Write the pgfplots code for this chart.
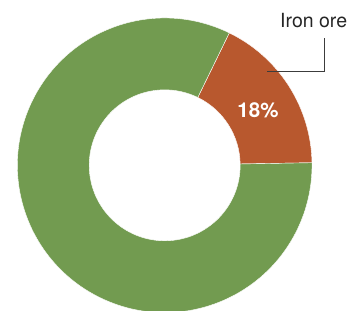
\documentclass[border=0pt]{standalone}
\usepackage{pgfplots}
\usepackage{pgfplotstable}
\pgfplotsset{compat=1.18}
\usetikzlibrary{calc}
\usepackage{fontspec}
\setmainfont{TeX Gyre Heros}
\definecolor{ore}{RGB}{184,88,46}
\definecolor{rest}{RGB}{114,155,80}
\definecolor{leader}{RGB}{60,60,60}
\pgfplotstableread{
name value
IronOre 17.5
Other 82.5
}\donutdata
\begin{document}
\begin{tikzpicture}
\pgfplotstablegetelem{0}{value}\of\donutdata \let\vA\pgfplotsretval
\pgfplotstablegetelem{1}{value}\of\donutdata \let\vB\pgfplotsretval
\pgfmathsetmacro{\aS}{1}
\pgfmathsetmacro{\aM}{\aS+3.6*\vA}
\pgfmathsetmacro{\aE}{\aM+3.6*\vB}
\def\cx{164.7}\def\cy{144.7}\def\Ro{147.3}\def\Ri{75.5}
\begin{axis}[x=1pt,y=1pt,xmin=0,xmax=352,ymin=0,ymax=310,
  hide axis, scale only axis, anchor=origin, at={(0,0)}]
\fill[ore, draw=white, line width=0.4pt]
  (axis cs:\cx,\cy) ++(\aS:\Ro pt) arc[start angle=\aS, end angle=\aM, radius=\Ro pt]
  -- ($(axis cs:\cx,\cy)+(\aM:\Ri pt)$) arc[start angle=\aM, end angle=\aS, radius=\Ri pt] -- cycle;
\fill[rest, draw=white, line width=0.4pt]
  (axis cs:\cx,\cy) ++(\aM:\Ro pt) arc[start angle=\aM, end angle=\aE, radius=\Ro pt]
  -- ($(axis cs:\cx,\cy)+(\aE:\Ri pt)$) arc[start angle=\aE, end angle=\aM, radius=\Ri pt] -- cycle;
\node[text=white, font=\fontsize{20.5}{24}\selectfont\bfseries] at (axis cs:258,200) {18\%};
\draw[leader, line width=0.9pt] (axis cs:267,239) -- (axis cs:324,239) -- (axis cs:324,272);
\node[anchor=base west, inner sep=0pt, text=black!85, font=\fontsize{19.5}{23}\selectfont] at (axis cs:280,282) {Iron ore};
\end{axis}
\pgfresetboundingbox
\path (0,0) rectangle (352pt,310pt);
\end{tikzpicture}
\end{document}
